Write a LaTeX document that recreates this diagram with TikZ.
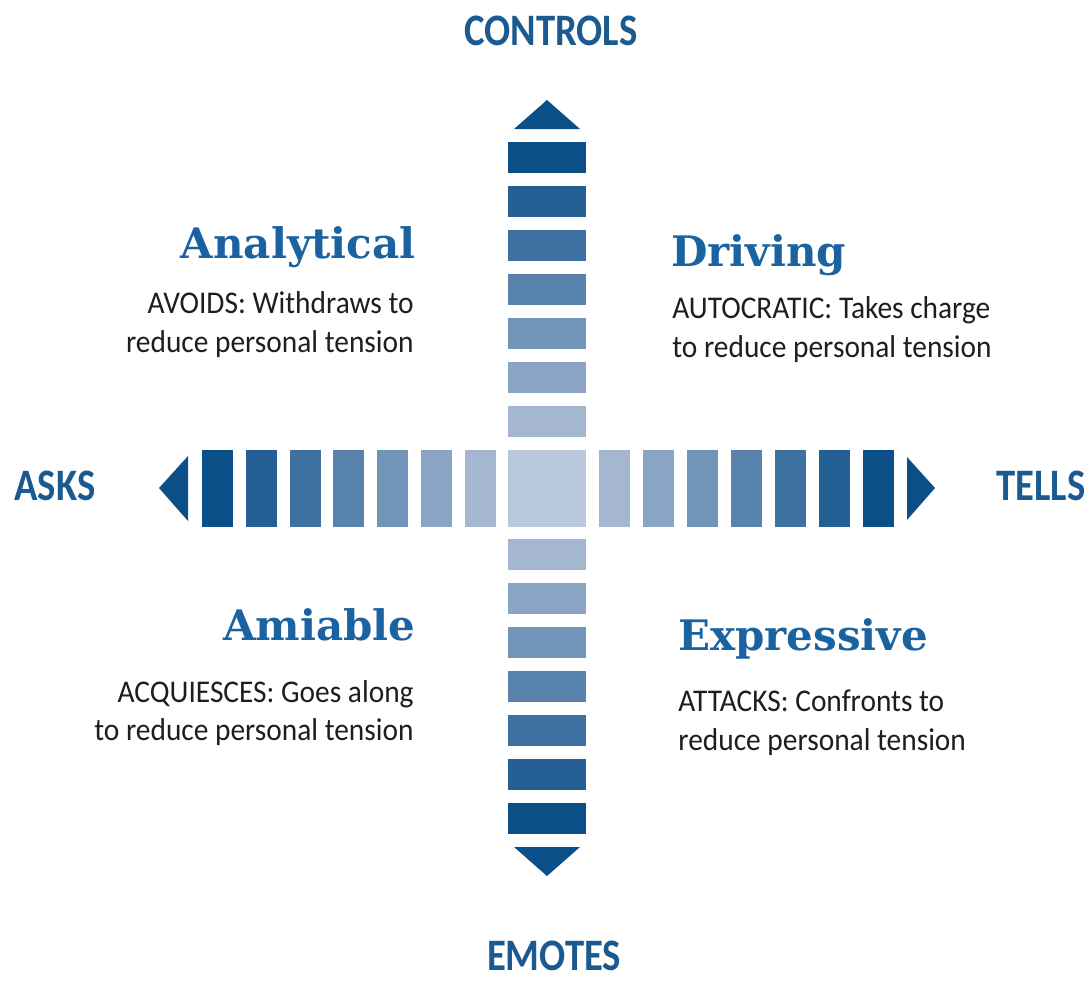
\documentclass[tikz,border=0pt]{standalone}
\usepackage{fontspec}
\newfontfamily\bodyfont[FakeStretch=0.93]{Carlito}
\newfontfamily\axisfont[FakeStretch=0.86]{Carlito}
\newfontfamily\headfont{DejaVu Serif}
\definecolor{barDark}{HTML}{0B4F88}
\definecolor{barLight}{HTML}{A4B6D0}
\definecolor{barCenter}{HTML}{B8C8DD}
\definecolor{headBlue}{HTML}{1A62A0}
\definecolor{axisBlue}{HTML}{1A5A90}
\definecolor{bodyGray}{HTML}{1E1E1E}
\tikzset{
  heading/.style={inner sep=0pt,text=headBlue,font=\headfont\bfseries\fontsize{21}{24}\selectfont},
  body/.style={inner sep=0pt,text=bodyGray,font=\bodyfont\fontsize{15.8}{19.5}\selectfont},
  axislabel/.style={inner sep=0pt,anchor=base,text=axisBlue,font=\axisfont\bfseries\fontsize{22.5}{26}\selectfont}
}
\begin{document}
\begin{tikzpicture}[x=0.5pt,y=-0.5pt]
    \useasboundingbox (0,0) rectangle (1092,981);

    \fill[barCenter] (508,450) rectangle (586,527);
    \foreach \k in {1,...,7} {
      \pgfmathsetmacro\p{100*(7-\k)/6}
      \fill[barDark!\p!barLight] (508,{142+44*(\k-1)}) rectangle (586,{173+44*(\k-1)});
      \fill[barDark!\p!barLight] (508,{803-44*(\k-1)}) rectangle (586,{834-44*(\k-1)});
      \fill[barDark!\p!barLight] ({202+43.8*(\k-1)},450) rectangle ({233+43.8*(\k-1)},527);
      \fill[barDark!\p!barLight] ({863-44*(\k-1)},450) rectangle ({894-44*(\k-1)},527);
    }

    \fill[barDark] (514,129) -- (580,129) -- (547,100) -- cycle;
    \fill[barDark] (514,847) -- (580,847) -- (547,876) -- cycle;
    \fill[barDark] (188,456) -- (188,521) -- (159,488) -- cycle;
    \fill[barDark] (907,457) -- (907,520) -- (935,488) -- cycle;

    \node[axislabel] (controls) at (551,45) {CONTROLS};
    \node[axislabel] (emotes) at (554,970) {EMOTES};
    \node[axislabel] (asks) at (55,500) {ASKS};
    \node[axislabel] (tells) at (1041,500) {TELLS};

    \node[heading,anchor=base east] (analytical) at (416,258) {Analytical};
    \node[body,anchor=base east] (analytical1) at (414,313) {AVOIDS: Withdraws to};
    \node[body,anchor=base east] (analytical2) at (414,352) {reduce personal tension};

    \node[heading,anchor=base west] (driving) at (671,266) {Driving};
    \node[body,anchor=base west] (driving1) at (672,318) {AUTOCRATIC: Takes charge};
    \node[body,anchor=base west] (driving2) at (672,357) {to reduce personal tension};

    \node[heading,anchor=base east] (amiable) at (416,640) {Amiable};
    \node[body,anchor=base east] (amiable1) at (414,702) {ACQUIESCES: Goes along};
    \node[body,anchor=base east] (amiable2) at (414,740) {to reduce personal tension};

    \node[heading,anchor=base west] (expressive) at (678,650) {Expressive};
    \node[body,anchor=base west] (expressive1) at (678,711) {ATTACKS: Confronts to};
    \node[body,anchor=base west] (expressive2) at (678,750) {reduce personal tension};
  \end{tikzpicture}
\end{document}
